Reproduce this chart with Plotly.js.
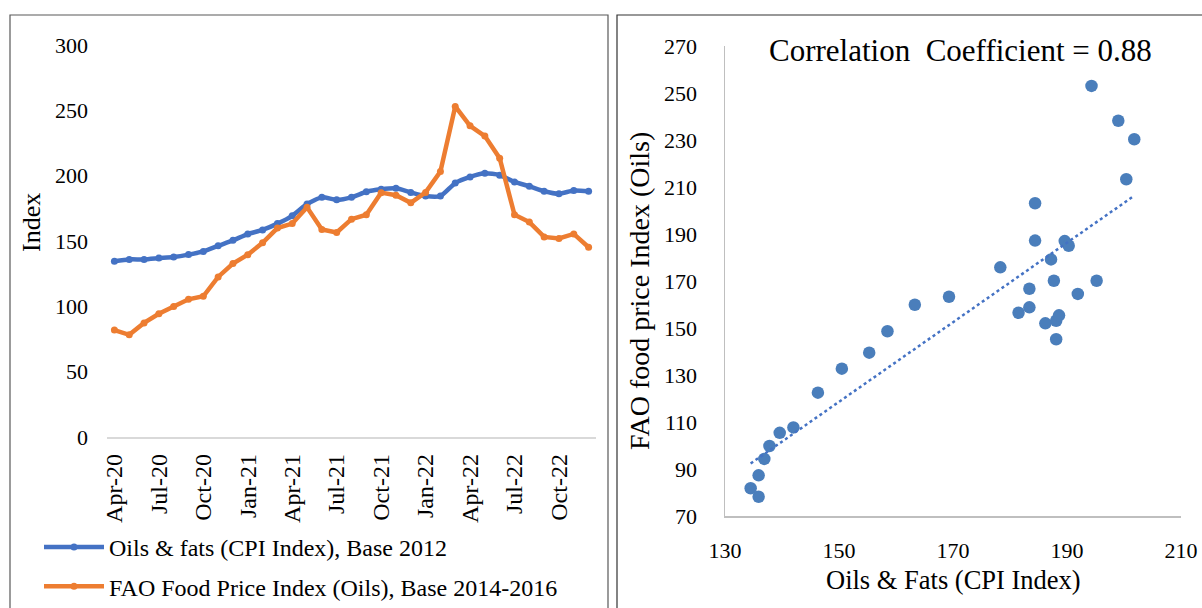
<!DOCTYPE html>
<html>
<head>
<meta charset="utf-8">
<script src="https://cdn.plot.ly/plotly-3.0.1.min.js"></script>
<style>html,body{margin:0;padding:0;background:#fff;}#chart{width:1202px;height:608px;}</style>
</head>
<body>
<div id="chart"></div>
<script>
// ---- Data ----
const months = ['Apr-20','May-20','Jun-20','Jul-20','Aug-20','Sep-20','Oct-20','Nov-20','Dec-20',
  'Jan-21','Feb-21','Mar-21','Apr-21','May-21','Jun-21','Jul-21','Aug-21','Sep-21','Oct-21','Nov-21','Dec-21',
  'Jan-22','Feb-22','Mar-22','Apr-22','May-22','Jun-22','Jul-22','Aug-22','Sep-22','Oct-22','Nov-22','Dec-22'];
const cpiOilsFats = [134.5,135.9,135.9,136.9,137.8,139.6,142.0,146.3,150.5,
  155.3,158.5,163.3,169.3,178.3,183.4,181.5,183.4,187.7,189.6,190.3,187.2,
  184.4,184.4,194.3,199.0,201.8,200.4,195.2,191.9,188.1,186.2,188.6,188.1];
const faoOils = [81.8,78.2,87.3,94.3,99.8,105.4,107.7,122.5,132.7,
  139.5,148.6,159.9,163.3,175.8,158.8,156.5,166.7,170.1,187.0,185.0,179.2,
  187.2,203.1,253.0,238.2,230.3,213.3,170.1,164.5,153.1,152.0,155.4,145.2];
const monthTicks = ['Apr-20','Jul-20','Oct-20','Jan-21','Apr-21','Jul-21','Oct-21','Jan-22','Apr-22','Jul-22','Oct-22'];
const seriesNames = ['Oils & fats (CPI Index), Base 2012','FAO Food Price Index (Oils), Base 2014-2016'];
const corrText = 'Correlation  Coefficient = 0.88';

// ---- Linear trend (least squares) ----
const n = cpiOilsFats.length;
const mx = cpiOilsFats.reduce((a,b)=>a+b,0)/n;
const my = faoOils.reduce((a,b)=>a+b,0)/n;
let sxy=0, sxx=0;
for (let i=0;i<n;i++){ sxy += (cpiOilsFats[i]-mx)*(faoOils[i]-my); sxx += (cpiOilsFats[i]-mx)**2; }
const slope = sxy/sxx, intercept = my - slope*mx;
const tx = [Math.min(...cpiOilsFats), Math.max(...cpiOilsFats)];
const ty = tx.map(v => intercept + slope*v);

const W = 1202, H = 608;
const px = v => v / W;
const py = v => 1 - v / H;
const FONT = "'Liberation Serif', 'Times New Roman', serif";

const traces = [
  {x: months, y: cpiOilsFats, name: seriesNames[0], type: 'scatter', mode: 'lines+markers',
   xaxis: 'x', yaxis: 'y', legendgroup: 'a',
   line: {color: '#4472C4', width: 4.5, shape: 'spline', smoothing: 0.6},
   marker: {color: '#4472C4', size: 7}},
  {x: months, y: faoOils, name: seriesNames[1], type: 'scatter', mode: 'lines+markers',
   xaxis: 'x', yaxis: 'y', legendgroup: 'b',
   line: {color: '#ED7D31', width: 4.5},
   marker: {color: '#ED7D31', size: 7}},
  {x: cpiOilsFats, y: faoOils, type: 'scatter', mode: 'markers', xaxis: 'x2', yaxis: 'y2',
   showlegend: false, marker: {color: '#4A7EBB', size: 12.5}},
  {x: tx, y: ty, type: 'scatter', mode: 'lines', xaxis: 'x2', yaxis: 'y2', showlegend: false,
   line: {color: '#4472C4', width: 2.5, dash: 'dot'}}
];

const layout = {
  width: W, height: H,
  margin: {l: 0, r: 0, t: 0, b: 0, autoexpand: false},
  paper_bgcolor: '#fff', plot_bgcolor: '#fff',
  font: {family: FONT, size: 22, color: '#000'},
  showlegend: true,
  legend: {x: px(39), y: py(525), xanchor: 'left', yanchor: 'top', orientation: 'v', itemwidth: 60,
    font: {family: FONT, size: 24, color: '#000'}, tracegroupgap: 5, bgcolor: 'rgba(0,0,0,0)'},
  xaxis: {domain: [px(107), px(596)], type: 'category', categoryorder: 'array', categoryarray: months,
    range: [-0.5, 32.5], tickvals: monthTicks, ticktext: monthTicks, tickangle: -90,
    tickfont: {family: FONT, size: 24}, showgrid: false, zeroline: false,
    showline: true, linecolor: '#D9D9D9', linewidth: 1.5, ticks: '', ticklabelstandoff: 6, fixedrange: true},
  yaxis: {domain: [py(437), py(45)], range: [0, 300], dtick: 50, showgrid: false, zeroline: false,
    showline: false, ticks: '', ticklabelstandoff: 18, tickfont: {family: FONT, size: 22}, fixedrange: true},
  xaxis2: {domain: [px(725), px(1181)], range: [130, 210], tick0: 130, dtick: 20, anchor: 'y2',
    showgrid: false, zeroline: false, showline: true, linecolor: '#BFBFBF', linewidth: 1.5,
    ticks: '', ticklabelstandoff: 14, tickfont: {family: FONT, size: 22}, fixedrange: true},
  yaxis2: {domain: [py(516), py(46)], range: [70, 270], tick0: 70, dtick: 20, anchor: 'x2',
    showgrid: false, zeroline: false, showline: true, linecolor: '#BFBFBF', linewidth: 1.5,
    ticks: '', ticklabelstandoff: 22, tickfont: {family: FONT, size: 22}, fixedrange: true},
  shapes: [
    {type: 'rect', xref: 'paper', yref: 'paper', x0: px(10), x1: px(608), y0: -0.02, y1: py(15),
     line: {color: '#595959', width: 1.2}, fillcolor: 'rgba(0,0,0,0)', layer: 'below'},
    {type: 'rect', xref: 'paper', yref: 'paper', x0: px(617), x1: 1.02, y0: -0.02, y1: py(15),
     line: {color: '#333333', width: 1.2}, fillcolor: 'rgba(0,0,0,0)', layer: 'below'}
  ],
  annotations: [
    {text: 'Index', xref: 'paper', yref: 'paper', x: px(31), y: py(223), showarrow: false,
     textangle: -90, font: {family: FONT, size: 26}, xanchor: 'center', yanchor: 'middle'},
    {text: 'FAO food price Index (Oils)', xref: 'paper', yref: 'paper', x: px(639), y: py(291), showarrow: false,
     textangle: -90, font: {family: FONT, size: 28}, xanchor: 'center', yanchor: 'middle'},
    {text: 'Oils & Fats (CPI Index)', xref: 'paper', yref: 'paper', x: px(953), y: py(580), showarrow: false,
     font: {family: FONT, size: 26.5}, xanchor: 'center', yanchor: 'middle'},
    {text: corrText, xref: 'paper', yref: 'paper', x: px(960), y: py(50), showarrow: false,
     font: {family: FONT, size: 31}, xanchor: 'center', yanchor: 'middle'}
  ]
};

Plotly.newPlot('chart', traces, layout, {displayModeBar: false, staticPlot: true});
</script>
</body>
</html>
